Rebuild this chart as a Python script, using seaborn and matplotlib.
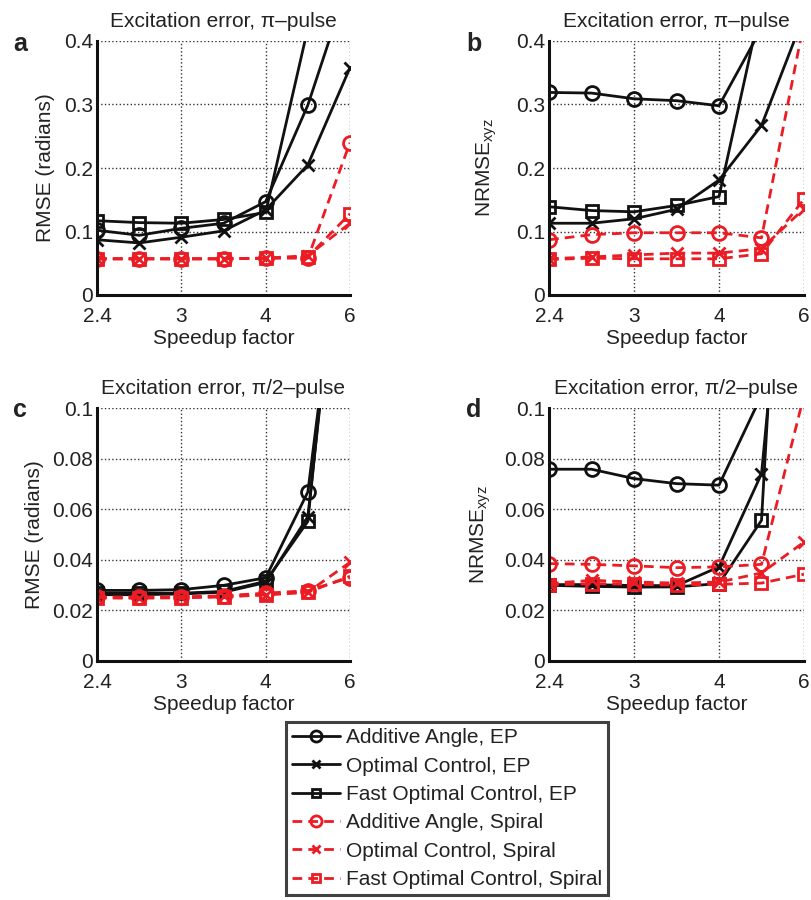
import numpy as np
import pandas as pd
import matplotlib
matplotlib.use("Agg")
import matplotlib.pyplot as plt
from matplotlib.ticker import FuncFormatter
from matplotlib.lines import Line2D
import seaborn as sns

sns.set_style("white")
plt.rcParams['font.family'] = ['Liberation Sans', 'DejaVu Sans']
plt.rcParams['mathtext.fontset'] = 'custom'
plt.rcParams['mathtext.rm'] = 'Liberation Sans'

# speedup factors (points are evenly spaced in 1/speedup)
speedup = [2.4, 2.667, 3, 3.429, 4, 4.8, 6]
tick_speedup = [2.4, 3, 4, 6]
tick_labels = ['2.4', '3', '4', '6']

# a: RMSE, pi-pulse
a_aa_ep = [0.102, 0.094, 0.105, 0.113, 0.147, 0.299, 0.50]
a_oc_ep = [0.087, 0.082, 0.091, 0.101, 0.134, 0.205, 0.358]
a_foc_ep = [0.117, 0.114, 0.113, 0.119, 0.130, 0.42, 0.80]
a_aa_sp = [0.057, 0.057, 0.057, 0.057, 0.058, 0.058, 0.240]
a_oc_sp = [0.057, 0.057, 0.057, 0.057, 0.058, 0.062, 0.113]
a_foc_sp = [0.057, 0.057, 0.057, 0.057, 0.058, 0.060, 0.128]

# b: NRMSE, pi-pulse
b_aa_ep = [0.319, 0.318, 0.309, 0.306, 0.298, 0.42, 0.60]
b_oc_ep = [0.113, 0.113, 0.120, 0.135, 0.181, 0.267, 0.44]
b_foc_ep = [0.139, 0.133, 0.131, 0.141, 0.155, 0.46, 0.80]
b_aa_sp = [0.087, 0.095, 0.098, 0.098, 0.098, 0.090, 0.43]
b_oc_sp = [0.057, 0.060, 0.063, 0.066, 0.066, 0.073, 0.136]
b_foc_sp = [0.056, 0.058, 0.057, 0.057, 0.057, 0.065, 0.151]

# c: RMSE, pi/2-pulse
c_aa_ep = [0.0279, 0.0279, 0.0282, 0.0299, 0.0329, 0.0668, 0.20]
c_oc_ep = [0.0262, 0.0262, 0.0265, 0.0272, 0.0310, 0.0570, 0.21]
c_foc_ep = [0.0268, 0.0268, 0.0268, 0.0275, 0.0315, 0.0552, 0.22]
c_aa_sp = [0.0253, 0.0253, 0.0253, 0.0258, 0.0268, 0.0278, 0.0330]
c_oc_sp = [0.0250, 0.0250, 0.0252, 0.0255, 0.0262, 0.0272, 0.0390]
c_foc_sp = [0.0250, 0.0248, 0.0250, 0.0253, 0.0262, 0.0272, 0.0335]

# d: NRMSE, pi/2-pulse
d_aa_ep = [0.0758, 0.0758, 0.0721, 0.0701, 0.0695, 0.105, 0.20]
d_oc_ep = [0.0302, 0.0302, 0.0298, 0.0298, 0.0372, 0.0740, 0.25]
d_foc_ep = [0.0299, 0.0295, 0.0292, 0.0293, 0.0306, 0.0556, 0.35]
d_aa_sp = [0.0385, 0.0382, 0.0376, 0.0369, 0.0372, 0.0382, 0.105]
d_oc_sp = [0.0306, 0.0319, 0.0312, 0.0308, 0.0312, 0.0348, 0.047]
d_foc_sp = [0.0300, 0.0306, 0.0303, 0.0300, 0.0303, 0.0308, 0.0343]

labels = ['Additive Angle, EP', 'Optimal Control, EP', 'Fast Optimal Control, EP',
          'Additive Angle, Spiral', 'Optimal Control, Spiral', 'Fast Optimal Control, Spiral']

BLACK = '#111111'
RED = '#ec1c24'
styles = [
    dict(color=BLACK, marker='o', ms=10, ls='-'),
    dict(color=BLACK, marker='x', ms=8, ls='-'),
    dict(color=BLACK, marker='s', ms=8, ls='-'),
    dict(color=RED, marker='o', ms=10, ls=(0, (3.5, 2.2))),
    dict(color=RED, marker='x', ms=8, ls=(0, (3.5, 2.2))),
    dict(color=RED, marker='s', ms=8, ls=(0, (3.5, 2.2))),
]

panels = [
    ('a', [a_aa_ep, a_oc_ep, a_foc_ep, a_aa_sp, a_oc_sp, a_foc_sp], 0.4, 0.1,
     'RMSE (radians)', 'Excitation error, π–pulse', 6),
    ('b', [b_aa_ep, b_oc_ep, b_foc_ep, b_aa_sp, b_oc_sp, b_foc_sp], 0.4, 0.1,
     r'NRMSE$_{\mathregular{xyz}}$', 'Excitation error, π–pulse', 12),
    ('c', [c_aa_ep, c_oc_ep, c_foc_ep, c_aa_sp, c_oc_sp, c_foc_sp], 0.1, 0.02,
     'RMSE (radians)', 'Excitation error, π/2–pulse', 6),
    ('d', [d_aa_ep, d_oc_ep, d_foc_ep, d_aa_sp, d_oc_sp, d_foc_sp], 0.1, 0.02,
     r'NRMSE$_{\mathregular{xyz}}$', 'Excitation error, π/2–pulse', 8),
]

W, H = 812, 900
rects = {
    'a': (97, 41, 350, 295),
    'b': (549, 41, 804, 295),
    'c': (97, 408, 350, 661),
    'd': (549, 408, 804, 661),
}
letter_pos = {'a': (20, 44), 'b': (474, 44), 'c': (20, 410), 'd': (474, 410)}

fig = plt.figure(figsize=(W / 100, H / 100), dpi=100)
inv = 1 / np.array(speedup)

for key, series, ymax, ystep, ylab, title, ypad in panels:
    x0, y0, x1, y1 = rects[key]
    ax = fig.add_axes([x0 / W, 1 - y1 / H, (x1 - x0) / W, (y1 - y0) / H])
    for vals, st in zip(series, styles):
        df = pd.DataFrame({'inv': inv, 'val': vals})
        sns.lineplot(data=df, x='inv', y='val', ax=ax, color=st['color'],
                     marker=st['marker'], markersize=st['ms'], linestyle=st['ls'],
                     linewidth=2.0, markerfacecolor='none',
                     markeredgecolor=st['color'], markeredgewidth=2.0,
                     sort=False)
    ax.set_xlim(1 / 2.4, 1 / 6)
    ax.set_ylim(0, ymax)
    ax.set_xticks([1 / s for s in tick_speedup])
    ax.set_xticklabels(tick_labels)
    ax.set_yticks(np.arange(0, ymax + ystep / 2, ystep))
    ax.yaxis.set_major_formatter(FuncFormatter(lambda v, p: f'{v:g}'))
    ax.grid(True, linestyle=':', color='#333333', linewidth=1.0)
    ax.set_axisbelow(True)
    for s in ['top', 'right']:
        ax.spines[s].set_visible(False)
    for s in ['left', 'bottom']:
        ax.spines[s].set_color(BLACK)
        ax.spines[s].set_linewidth(2.2)
    ax.tick_params(direction='in', length=4, width=1, labelsize=15, pad=3,
                   colors=BLACK, labelcolor='#222222')
    ax.tick_params(axis='x', pad=8.5)
    ax.set_xlabel('Speedup factor', fontsize=15, labelpad=2, color='#222222')
    ax.set_ylabel(ylab, fontsize=15, labelpad=ypad, color='#222222')
    ax.set_title(title, fontsize=15, pad=10, color='#222222')
    lx, ly = letter_pos[key]
    fig.text(lx / W, 1 - ly / H, key, fontsize=18, fontweight='bold',
             ha='center', va='center', color='#222222')

handles = [Line2D([], [], color=st['color'], marker=st['marker'], markersize=st['ms'] * 0.8,
                  linestyle=st['ls'], linewidth=2.0, markerfacecolor='none',
                  markeredgewidth=2.0) for st in styles]
leg = fig.legend(handles, labels, loc='upper center', bbox_to_anchor=(447 / W, 1 - 722 / H),
                 fontsize=15, frameon=True, fancybox=False, edgecolor=BLACK,
                 handlelength=2.3, handletextpad=0.3, labelspacing=0.45,
                 borderpad=0.3, borderaxespad=0)
leg.get_frame().set_linewidth(2.2)
for t in leg.get_texts():
    t.set_color('#222222')

fig.savefig('out.png', dpi=100)
